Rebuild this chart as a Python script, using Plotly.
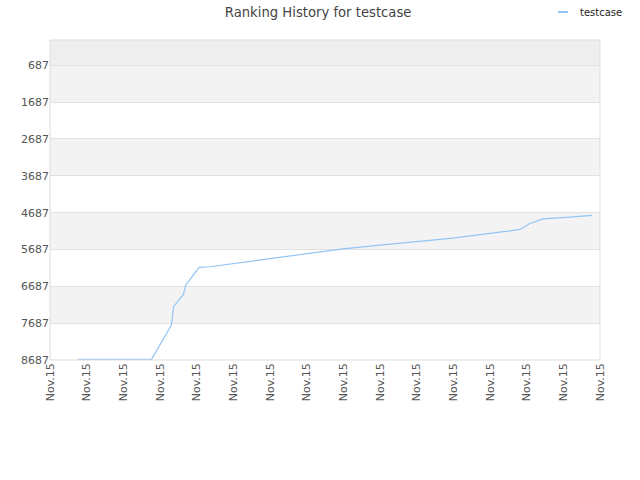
import plotly.graph_objects as go

# data (x = position along the time axis in tick units, y = rank)
x_pos = [0.76, 2.77, 3.31, 3.37, 3.64, 3.70, 4.07, 4.36, 6.0, 7.01, 7.99, 9.0,
         10.01, 10.99, 12.0, 12.82, 13.09, 13.44, 14.09, 14.78]
ranks = [8670, 8670, 7738, 7241, 6906, 6653, 6173, 6156, 5935, 5799, 5669, 5566,
         5471, 5378, 5251, 5143, 4980, 4855, 4817, 4763]
x_ticks = list(range(16))
x_labels = ["Nov.15"] * 16
y_ticks = [687, 1687, 2687, 3687, 4687, 5687, 6687, 7687, 8687]
y_top = 0
y_bottom = 8687
series_name = "testcase"
line_color = "#93c5f4"

fig = go.Figure()
fig.add_trace(go.Scatter(x=x_pos, y=ranks, mode="lines", name=series_name,
                         line=dict(color=line_color, width=1.2), showlegend=False))

shapes = []
shapes.append(dict(type="rect", xref="paper", yref="y", x0=0, x1=1, y0=y_top, y1=y_ticks[0],
                   fillcolor="#eeeeee", line=dict(width=0), layer="below"))
for i in range(len(y_ticks) - 1):
    col = "#f3f3f3" if i % 2 == 0 else "#ffffff"
    shapes.append(dict(type="rect", xref="paper", yref="y", x0=0, x1=1,
                       y0=y_ticks[i], y1=y_ticks[i + 1],
                       fillcolor=col, line=dict(width=0), layer="below"))
shapes.append(dict(type="rect", xref="paper", yref="paper", x0=0, x1=1, y0=0, y1=1,
                   line=dict(color="#dddddd", width=1), layer="above"))
# legend key
shapes.append(dict(type="line", xref="paper", yref="paper", x0=0.9236, x1=0.9418,
                   y0=1.0875, y1=1.0875, line=dict(color=line_color, width=2)))

fig.update_layout(
    width=640, height=480,
    margin=dict(l=50, r=40, t=40, b=120, autoexpand=False),
    paper_bgcolor="white", plot_bgcolor="white",
    font=dict(family="DejaVu Sans", size=11, color="#555555"),
    title=dict(text="Ranking History for testcase", x=0.497, xanchor="center",
               y=0.975, yanchor="middle",
               font=dict(size=13.2, color="#444444")),
    showlegend=False,
    shapes=shapes,
    annotations=[dict(text=series_name, xref="paper", yref="paper", x=0.96, y=1.0875,
                      xanchor="left", yanchor="middle", showarrow=False,
                      font=dict(size=10, color="#222222"))],
    xaxis=dict(range=[0, 15], tickvals=x_ticks, ticktext=x_labels, tickangle=-90,
               showgrid=False, zeroline=False, showline=False, ticks="",
               tickfont=dict(size=11, color="#555555")),
    yaxis=dict(range=[y_bottom, y_top], tickvals=y_ticks, showgrid=True,
               gridcolor="#e2e2e2", zeroline=False, showline=False, ticks="",
               tickfont=dict(size=11, color="#555555")),
)
fig.write_html("out.html", config={"displayModeBar": False},
               post_script="document.body.style.margin='0';")
